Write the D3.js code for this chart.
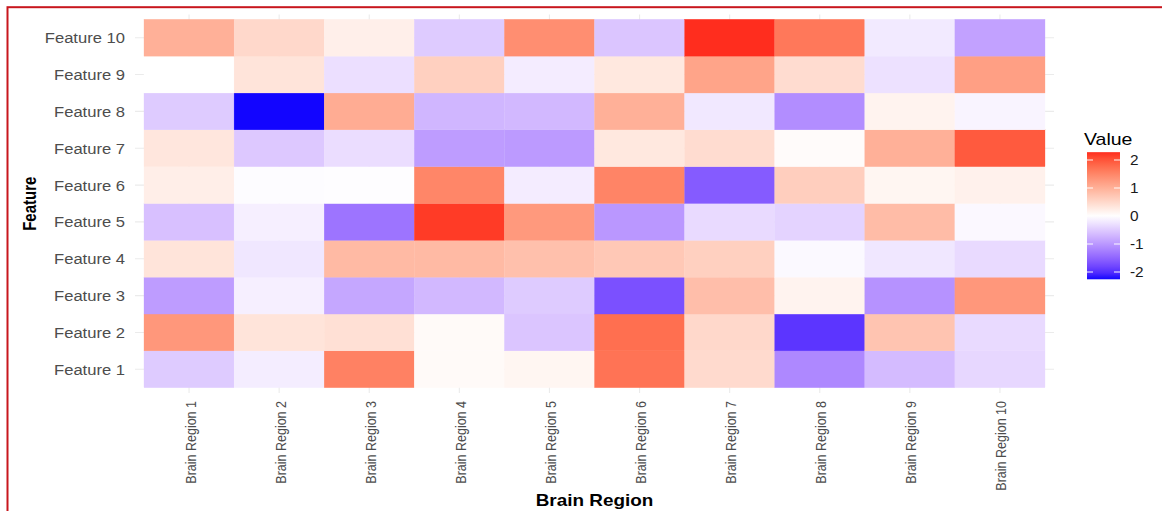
<!DOCTYPE html>
<html>
<head>
<meta charset="utf-8">
<script src="https://cdn.jsdelivr.net/npm/d3@7/dist/d3.min.js"></script>
<style>
  html, body { margin: 0; padding: 0; background: #fff; }
  svg { display: block; font-family: "Liberation Sans", Arial, sans-serif; }
</style>
</head>
<body>
<svg id="chart" width="1162" height="511"></svg>
<script>
// ---------------- data ----------------
const regions = ["Brain Region 1","Brain Region 2","Brain Region 3","Brain Region 4","Brain Region 5",
                 "Brain Region 6","Brain Region 7","Brain Region 8","Brain Region 9","Brain Region 10"];
const features = ["Feature 1","Feature 2","Feature 3","Feature 4","Feature 5",
                  "Feature 6","Feature 7","Feature 8","Feature 9","Feature 10"];
// values per feature, across regions 1..10
const feature1  = [-0.50, -0.17,  1.55,  0.07,  0.12,  1.70,  0.47, -1.15, -0.65, -0.38];
const feature2  = [ 1.30,  0.35,  0.40,  0.07, -0.55,  1.75,  0.50, -1.95,  0.75, -0.35];
const feature3  = [-0.95, -0.15, -0.85, -0.68, -0.50, -1.70,  0.82,  0.15, -1.05,  1.30];
const feature4  = [ 0.35, -0.23,  0.88,  0.88,  0.80,  0.70,  0.60, -0.06, -0.23, -0.35];
const feature5  = [-0.60, -0.15, -1.35,  2.20,  1.28, -1.00, -0.35, -0.42,  0.85, -0.07];
const feature6  = [ 0.22, -0.03, -0.02,  1.50, -0.18,  1.52, -1.60,  0.62,  0.12,  0.18];
const feature7  = [ 0.32, -0.52, -0.32, -0.95, -0.97,  0.30,  0.45,  0.05,  1.00,  1.95];
const feature8  = [-0.50, -2.26,  1.05, -0.70, -0.68,  1.00, -0.22, -1.10,  0.15, -0.10];
const feature9  = [ 0.00,  0.35, -0.30,  0.60, -0.18,  0.30,  1.15,  0.45, -0.28,  1.20];
const feature10 = [ 1.00,  0.50,  0.20, -0.50,  1.40, -0.55,  2.28,  1.65, -0.20, -0.90];
const legendTicks = [-2, -1, 0, 1, 2];

const valueRows = [feature1, feature2, feature3, feature4, feature5,
                   feature6, feature7, feature8, feature9, feature10];
const cells = [];
features.forEach((f, i) => regions.forEach((r, j) => cells.push({feature: f, region: r, value: valueRows[i][j]})));

// ---------------- layout ----------------
const svg = d3.select("#chart");
const panel = {x0: 135, x1: 1054, y0: 14.5, y1: 393};
const tile = {x0: 144, x1: 1045, y0: 19.3, y1: 387.7};

const x = d3.scaleBand().domain(regions).range([tile.x0, tile.x1]);
const y = d3.scaleBand().domain(features).range([tile.y1, tile.y0]);

const vmin = d3.min(cells, d => d.value), vmax = d3.max(cells, d => d.value);
const M = Math.max(Math.abs(vmin), Math.abs(vmax));
const color = d3.scaleLinear().domain([-M, 0, M]).range(["#0000ff", "#ffffff", "#ff2d1e"])
  .interpolate(d3.interpolateLab);

// gridlines
const grid = svg.append("g");
grid.selectAll("line.v").data(regions).join("line")
  .attr("x1", d => x(d) + x.bandwidth()/2).attr("x2", d => x(d) + x.bandwidth()/2)
  .attr("y1", panel.y0).attr("y2", panel.y1)
  .attr("stroke", "#ebebeb").attr("stroke-width", 1.1);
grid.selectAll("line.h").data(features).join("line")
  .attr("y1", d => y(d) + y.bandwidth()/2).attr("y2", d => y(d) + y.bandwidth()/2)
  .attr("x1", panel.x0).attr("x2", panel.x1)
  .attr("stroke", "#ebebeb").attr("stroke-width", 1.1);

// tiles
svg.append("g").selectAll("rect").data(cells).join("rect")
  .attr("x", d => x(d.region)).attr("y", d => y(d.feature))
  .attr("width", x.bandwidth()).attr("height", y.bandwidth())
  .attr("fill", d => color(d.value))
  .attr("stroke", d => color(d.value)).attr("stroke-width", 0.3);

// y tick labels
svg.append("g").selectAll("text").data(features).join("text")
  .attr("transform", d => `translate(125,${y(d) + y.bandwidth()/2 + 5.5}) scale(1.077,1)`)
  .attr("text-anchor", "end").attr("font-size", 15.4).attr("fill", "#4d4d4d")
  .text(d => d);

// x tick labels
svg.append("g").selectAll("text").data(regions).join("text")
  .attr("transform", d => `translate(${x(d) + x.bandwidth()/2 + 6.5},401) rotate(-90) scale(1,1.15)`)
  .attr("text-anchor", "end").attr("font-size", 12.5).attr("fill", "#4d4d4d")
  .text(d => d);

// axis titles
svg.append("text")
  .attr("transform", `translate(${(panel.x0 + panel.x1)/2},506) scale(1.16,1)`)
  .attr("text-anchor", "middle").attr("font-size", 16.3).attr("font-weight", "bold")
  .attr("fill", "#000").text("Brain Region");
svg.append("text")
  .attr("transform", `translate(35.5,${(panel.y0 + panel.y1)/2}) rotate(-90) scale(1,1.2)`)
  .attr("text-anchor", "middle").attr("font-size", 15).attr("font-weight", "bold")
  .attr("fill", "#000").text("Feature");

// legend
const ly = d3.scaleLinear().domain([0, 2]).range([216, 160]);
const bar = {x: 1087, w: 33, top: ly(vmax), bottom: ly(vmin)};
const defs = svg.append("defs");
const grad = defs.append("linearGradient").attr("id", "lg")
  .attr("x1", 0).attr("y1", 1).attr("x2", 0).attr("y2", 0);
d3.range(0, 1.0001, 0.05).forEach(t => {
  const v = vmin + t * (vmax - vmin);
  grad.append("stop").attr("offset", t).attr("stop-color", color(v));
});
svg.append("rect").attr("x", bar.x).attr("y", bar.top).attr("width", bar.w)
  .attr("height", bar.bottom - bar.top).attr("fill", "url(#lg)");
const lt = svg.append("g");
lt.selectAll("line.l").data(legendTicks).join("line")
  .attr("x1", bar.x).attr("x2", bar.x + 6).attr("y1", d => ly(d)).attr("y2", d => ly(d))
  .attr("stroke", "#fff").attr("stroke-width", 1.2).attr("opacity", 0.8);
lt.selectAll("line.r").data(legendTicks).join("line")
  .attr("x1", bar.x + bar.w - 6).attr("x2", bar.x + bar.w).attr("y1", d => ly(d)).attr("y2", d => ly(d))
  .attr("stroke", "#fff").attr("stroke-width", 1.2).attr("opacity", 0.8);
lt.selectAll("text").data(legendTicks).join("text")
  .attr("transform", d => `translate(1130,${ly(d) + 5}) scale(1.1,1)`)
  .attr("font-size", 14).attr("fill", "#1a1a1a")
  .text(d => d < 0 ? "-" + Math.abs(d) : String(d));
svg.append("text").attr("transform", "translate(1084,145) scale(1.22,1)")
  .attr("font-size", 16).attr("fill", "#000").text("Value");

// outer red frame
svg.append("rect").attr("x", 7.5).attr("y", 7.2).attr("width", 1300).attr("height", 700)
  .attr("fill", "none").attr("stroke", "#c8161d").attr("stroke-width", 2);
</script>
</body>
</html>
